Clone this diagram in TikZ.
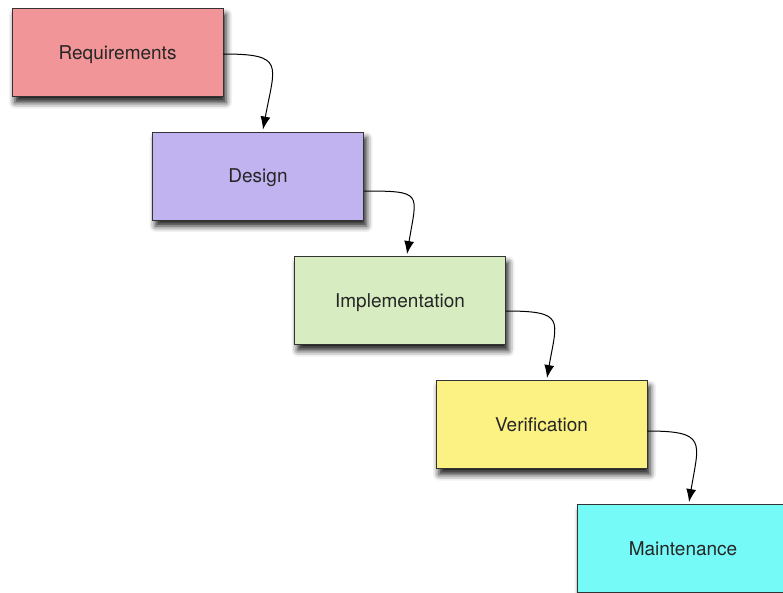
\documentclass[tikz,border=0pt]{standalone}
\usepackage{fontspec}
\setmainfont{TeX Gyre Heros}
\usetikzlibrary{arrows.meta,shadows.blur}

\definecolor{reqred}{HTML}{F29598}
\definecolor{deslila}{HTML}{C1B3EF}
\definecolor{impgreen}{HTML}{D7ECC0}
\definecolor{veryellow}{HTML}{FCF283}
\definecolor{maicyan}{HTML}{76FAF7}

\begin{document}
\begin{tikzpicture}
	[x=1pt,y=-1pt,
	phase/.style={rectangle,draw=black!80,line width=0.9pt,
		minimum width=211pt,minimum height=88pt,inner sep=0pt,
		font=\fontsize{19}{23}\selectfont,text=black!85,
		text height=13.7pt,text depth=0pt,
		blur shadow={shadow xshift=3pt,shadow yshift=-6pt,
		shadow blur radius=6pt,shadow opacity=90}},
	flow/.style={black,line width=1pt,
		-{Latex[length=13pt,width=10pt]}}]
\useasboundingbox (0,0) rectangle (783,592);
%fases
\node (req) at (117.5,52.5) [phase,fill=reqred] {Requirements};
\node (des) at (258,176) [phase,fill=deslila] {Design};
\node (imp) at (400,300.5) [phase,fill=impgreen] {Implementation};
\node (ver) at (541.5,424.5) [phase,fill=veryellow] {Verification};
\node (mai) at (683,548.5) [phase,fill=maicyan] {Maintenance};
%flechas
\draw[flow] ([yshift=-1.5pt]req.east) .. controls +(62,0) and +(12,-65) .. ([xshift=5pt,yshift=2pt]des.north);
\draw[flow] ([yshift=-15pt]des.east) .. controls +(60,0) and +(10,-61) .. ([xshift=7pt,yshift=2pt]imp.north);
\draw[flow] ([yshift=-10.5pt]imp.east) .. controls +(60,0) and +(10,-58) .. ([xshift=5.5pt,yshift=2pt]ver.north);
\draw[flow] ([yshift=-6.5pt]ver.east) .. controls +(60,0) and +(10,-60) .. ([xshift=6pt,yshift=2pt]mai.north);
\end{tikzpicture}
\end{document}
